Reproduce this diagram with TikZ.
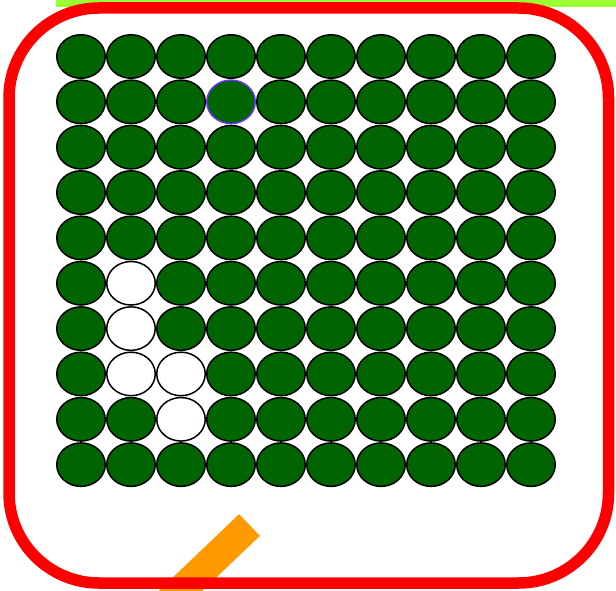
\documentclass[tikz,border=0pt]{standalone}
\usetikzlibrary{shapes.geometric}

\definecolor{leafgreen}{RGB}{0,100,0}
\definecolor{pickblue}{RGB}{102,51,255}
\definecolor{barlime}{RGB}{153,255,51}
\definecolor{stickorange}{RGB}{255,153,0}

\begin{document}
\begin{tikzpicture}[x=1pt, y=-1pt,
    dot/.style={ellipse, line width=1.5pt, minimum width=48.5pt, minimum height=43.5pt, inner sep=0pt},
    rim/.style={draw=red, line width=11.5pt, rounded corners=90pt},
    stick/.style={draw=stickorange, line width=30pt}]
    \useasboundingbox (0,0) rectangle (616,591);

    \fill[barlime] (56,0) rectangle (616,7.3);

    \coordinate (stick-top) at (249.5,525);
    \coordinate (stick-end) at (150,620);
    \draw[stick] (stick-top) -- (stick-end);

    \draw[rim] (9,8) rectangle (608.5,583);

    \foreach \r in {1,...,10} {
        \foreach \c in {1,...,10} {
            \pgfmathtruncatemacro\hole{((\r>5)*(\r<9)*(\c==2)) + ((\r>7)*(\r<10)*(\c==3))}
            \pgfmathtruncatemacro\pick{(\r==2)*(\c==4)}
            \ifnum\hole>0 \def\cellfill{white}\else\def\cellfill{leafgreen}\fi
            \ifnum\pick>0 \def\celldraw{pickblue}\else\def\celldraw{black}\fi
            \node[dot, fill=\cellfill, draw=\celldraw] (cell-\r-\c) at ({81+50*(\c-1)}, {56.5+45.35*(\r-1)}) {};
        }
    }
\end{tikzpicture}
\end{document}
